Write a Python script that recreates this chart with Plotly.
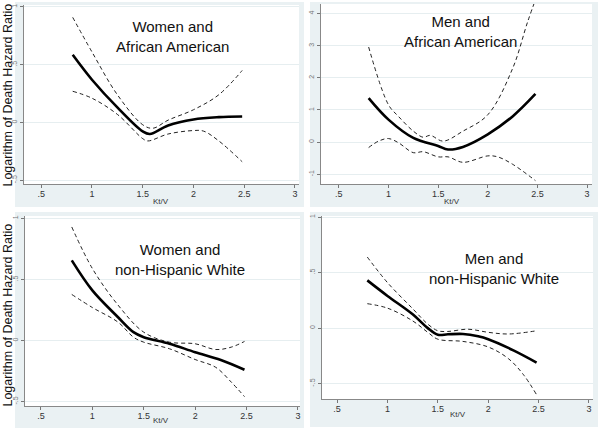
import plotly.graph_objects as go

# Kt/V points and log hazard ratio
# Women and African American
wa_x = [0.81, 1.0, 1.25, 1.5, 1.57, 1.75, 2.0, 2.25, 2.48]
wa_fit = [0.586, 0.37, 0.13, -0.078, -0.10, -0.026, 0.026, 0.046, 0.052]
wa_up_x = [0.81, 1.0, 1.25, 1.5, 1.6, 1.75, 2.0, 2.25, 2.48]
wa_up = [0.91, 0.61, 0.24, -0.02, -0.05, 0.02, 0.11, 0.24, 0.45]
wa_lo_x = [0.81, 1.0, 1.25, 1.5, 1.55, 1.75, 2.0, 2.1, 2.25, 2.48]
wa_lo = [0.27, 0.21, 0.07, -0.14, -0.16, -0.10, -0.07, -0.075, -0.16, -0.34]

# Men and African American
ma_x = [0.8, 1.0, 1.25, 1.5, 1.6, 1.75, 2.0, 2.25, 2.48]
ma_fit = [1.37, 0.70, 0.13, -0.12, -0.23, -0.15, 0.24, 0.80, 1.50]
ma_up_x = [0.8, 1.0, 1.1, 1.25, 1.35, 1.42, 1.55, 1.75, 2.0, 2.25, 2.4, 2.5]
ma_up = [2.96, 1.16, 0.80, 0.34, 0.15, 0.21, 0.03, 0.34, 0.85, 2.29, 3.73, 4.6]
ma_lo_x = [0.8, 0.9, 1.0, 1.1, 1.25, 1.35, 1.5, 1.6, 1.75, 2.0, 2.1, 2.25, 2.48]
ma_lo = [-0.17, 0.03, 0.11, -0.02, -0.33, -0.30, -0.46, -0.46, -0.63, -0.43, -0.46, -0.69, -1.20]

# Women and non-Hispanic White
ww_x = [0.8, 1.0, 1.25, 1.4, 1.5, 1.75, 2.0, 2.25, 2.48]
ww_fit = [0.656, 0.41, 0.19, 0.068, 0.027, -0.027, -0.096, -0.16, -0.24]
ww_up_x = [0.8, 1.0, 1.25, 1.5, 1.75, 2.0, 2.2, 2.35, 2.48]
ww_up = [0.93, 0.59, 0.29, 0.068, -0.014, -0.027, -0.074, -0.055, -0.008]
ww_lo_x = [0.8, 1.0, 1.25, 1.4, 1.5, 1.75, 2.0, 2.2, 2.35, 2.48]
ww_lo = [0.377, 0.27, 0.15, 0.027, -0.014, -0.068, -0.156, -0.22, -0.34, -0.46]

# Men and non-Hispanic White
mw_x = [0.8, 1.0, 1.25, 1.4, 1.5, 1.6, 1.75, 1.9, 2.0, 2.25, 2.48]
mw_fit = [0.43, 0.29, 0.124, 0.0, -0.06, -0.056, -0.053, -0.074, -0.10, -0.2, -0.31]
mw_up_x = [0.8, 1.0, 1.25, 1.4, 1.5, 1.6, 1.8, 2.0, 2.2, 2.48]
mw_up = [0.64, 0.41, 0.175, 0.036, -0.024, -0.03, -0.01, -0.038, -0.053, -0.024]
mw_lo_x = [0.8, 1.0, 1.25, 1.4, 1.5, 1.75, 2.0, 2.2, 2.35, 2.48]
mw_lo = [0.22, 0.18, 0.065, -0.038, -0.10, -0.12, -0.17, -0.275, -0.42, -0.60]

x_ticks = [0.5, 1, 1.5, 2, 2.5, 3]
x_labels = [".5", "1", "1.5", "2", "2.5", "3"]
y_ticks_small = [-0.5, 0, 0.5, 1]
y_labels_small = ["-.5", "0", ".5", "1"]
y_ticks_big = [-1, 0, 1, 2, 3, 4]
y_labels_big = ["-1", "0", "1", "2", "3", "4"]

panel_titles = ["Women and<br>African American", "Men and<br>African American",
                "Women and<br>non-Hispanic White", "Men and<br>non-Hispanic White"]

panels = [
    (wa_x, wa_fit, wa_up_x, wa_up, wa_lo_x, wa_lo),
    (ma_x, ma_fit, ma_up_x, ma_up, ma_lo_x, ma_lo),
    (ww_x, ww_fit, ww_up_x, ww_up, ww_lo_x, ww_lo),
    (mw_x, mw_fit, mw_up_x, mw_up, mw_lo_x, mw_lo),
]

W, H = 600, 430
bg = "#eaf1f3"
ink = "#222222"

def px(x):
    return x / W

def py(y):
    return 1 - y / H

fig = go.Figure()

for i, (fx, fy, ux, uy, lx, ly) in enumerate(panels):
    ax = "" if i == 0 else str(i + 1)
    fig.add_trace(go.Scatter(x=ux, y=uy, mode="lines", line_shape="spline",
                             line=dict(color=ink, width=1, dash="4px,3px"),
                             xaxis="x" + ax, yaxis="y" + ax, showlegend=False))
    fig.add_trace(go.Scatter(x=lx, y=ly, mode="lines", line_shape="spline",
                             line=dict(color=ink, width=1, dash="4px,3px"),
                             xaxis="x" + ax, yaxis="y" + ax, showlegend=False))
    fig.add_trace(go.Scatter(x=fx, y=fy, mode="lines", line_shape="spline",
                             line=dict(color="black", width=2.6),
                             xaxis="x" + ax, yaxis="y" + ax, showlegend=False))

# plot areas in pixels: left, right, top, bottom
areas = [(24, 299, 3, 183), (321, 592, 2, 183), (25, 300, 215, 406), (322, 593, 215, 399)]
x_ranges = [[0.33, 3.04], [0.32, 3.05], [0.345, 3.02], [0.35, 3.04]]
y_ranges = [[-0.534, 1.017], [-1.31, 4.3], [-0.538, 1.02], [-0.64, 1.01]]
y_sets = [(y_ticks_small, y_labels_small), (y_ticks_big, y_labels_big),
          (y_ticks_small, y_labels_small), (y_ticks_small, y_labels_small)]

layout = {}
for i, (l, r, t, b) in enumerate(areas):
    ax = "" if i == 0 else str(i + 1)
    layout["xaxis" + ax] = dict(
        domain=[px(l), px(r)], range=x_ranges[i], anchor="y" + ax,
        tickmode="array", tickvals=x_ticks, ticktext=x_labels, ticks="outside", ticklen=3,
        tickcolor="#777777", tickfont=dict(size=9, color="#333333", family="Arial"),
        showgrid=False, zeroline=False, showline=True, linecolor="#888888", linewidth=1,
        ticklabelstandoff=-2,
    )
    layout["yaxis" + ax] = dict(
        domain=[py(b), py(t)], range=y_ranges[i], anchor="x" + ax,
        tickmode="array", tickvals=y_sets[i][0], ticktext=y_sets[i][1],
        ticks="outside", ticklen=3, tickcolor="#777777", tickangle=-90,
        tickfont=dict(size=7, color="#777777", family="Arial"),
        showgrid=True, gridcolor="#e6eef0", gridwidth=1,
        zeroline=False, showline=True, linecolor="#888888", linewidth=1,
    )

# grey panel backgrounds, then white plot areas on top of them
boxes = [(15, 304, 0, 206), (310, 598, 0, 206), (15, 304, 211, 428), (310, 598, 211, 427)]
shapes = []
for l, r, t, b in boxes:
    shapes.append(dict(type="rect", xref="paper", yref="paper", layer="below",
                       x0=px(l), x1=px(r), y0=py(b), y1=py(t),
                       fillcolor=bg, line=dict(width=0)))
for i in range(4):
    ax = "" if i == 0 else str(i + 1)
    shapes.append(dict(type="rect", xref="x" + ax + " domain", yref="y" + ax + " domain",
                       layer="below", x0=0, x1=1, y0=0, y1=1,
                       fillcolor="white", line=dict(width=0)))

annotations = []
title_pos = [(172, 35), (460, 30), (180, 259), (494, 268)]
for txt, (cx, cy) in zip(panel_titles, title_pos):
    annotations.append(dict(text=txt, x=px(cx), y=py(cy), xref="paper", yref="paper",
                            showarrow=False, font=dict(size=15, color="#111111", family="Arial"),
                            xanchor="center", yanchor="middle"))

kt_pos = [(161, 200), (452, 200), (161, 420), (458, 414)]
for cx, cy in kt_pos:
    annotations.append(dict(text="Kt/V", x=px(cx), y=py(cy), xref="paper", yref="paper",
                            showarrow=False, font=dict(size=8, color="#333333", family="Arial"),
                            xanchor="center", yanchor="middle"))

for cy in [94, 315]:
    annotations.append(dict(text="Logarithm of Death Hazard Ratio", x=px(8), y=py(cy),
                            xref="paper", yref="paper", showarrow=False, textangle=-90,
                            font=dict(size=12.5, color="#111111", family="Arial"),
                            xanchor="center", yanchor="middle"))

fig.update_layout(
    width=W, height=H, margin=dict(l=0, r=0, t=0, b=0),
    paper_bgcolor="white", plot_bgcolor="white",
    shapes=shapes, annotations=annotations, **layout,
)

# drop the page's default body margin so the figure sits at the window corner
fig.write_html("out.html", config={"displayModeBar": False},
               post_script="document.body.style.margin='0';")
